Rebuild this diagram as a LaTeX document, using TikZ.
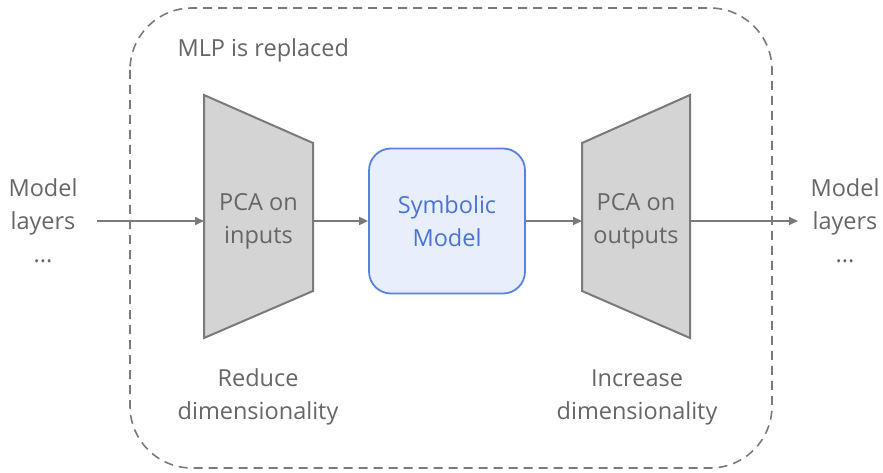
\documentclass[tikz,border=0pt]{standalone}
\usepackage{fontspec}
\setmainfont{Open Sans}
\definecolor{txtgray}{HTML}{666666}
\definecolor{linegray}{HTML}{7A7A7A}
\definecolor{trapfill}{HTML}{D4D4D4}
\definecolor{bluefill}{HTML}{E8EEFB}
\definecolor{bluedraw}{HTML}{5A80E0}
\definecolor{bluetxt}{HTML}{4A74D6}
\usetikzlibrary{arrows.meta}
\begin{document}
\begin{tikzpicture}[x=1pt,y=-1pt,
  lbl/.style={text=txtgray,font=\fontsize{23.5}{33}\selectfont,align=center},
  conn/.style={draw=linegray,line width=1.8pt,-{Triangle[length=9pt,width=8pt]}},
  trap/.style={draw=linegray,fill=trapfill,line width=2pt,line join=miter}]
\useasboundingbox (0,0) rectangle (883,473);
\draw[linegray,line width=1.6pt,dash pattern=on 9pt off 6pt,rounded corners=62pt] (130,8) rectangle (772,468);
\node[lbl,anchor=west] (title) at (174,50) {MLP is replaced};
% trapezoids
\draw[trap] (204,95) -- (313,143) -- (313,291) -- (204,338) -- cycle;
\draw[trap] (582,143) -- (690,95) -- (690,338) -- (582,291) -- cycle;
\coordinate (inL) at (204,221);
\coordinate (inR) at (313,221);
\coordinate (outL) at (582,221);
\coordinate (outR) at (690,221);
\node[lbl] (pin) at (258.5,221) {PCA on\\inputs};
\node[lbl] (pout) at (636,221) {PCA on\\outputs};
\node[draw=bluedraw,fill=bluefill,line width=1.8pt,rounded corners=22pt,minimum width=156pt,minimum height=145pt,text=bluetxt,font=\fontsize{23.5}{33}\selectfont,align=center] (sym) at (447,221) {Symbolic\\Model};
\node[lbl] (mleft) at (43,221) {Model\\layers\\...};
\node[lbl] (mright) at (845,221) {Model\\layers\\...};
\coordinate (a0) at (97,221);
\coordinate (a5) at (798,221);
\draw[conn] (a0) -- (inL);
\draw[conn] (inR) -- (sym.west);
\draw[conn] (sym.east) -- (outL);
\draw[conn] (outR) -- (a5);
\node[lbl] (red) at (258,397) {Reduce\\dimensionality};
\node[lbl] (inc) at (637,397) {Increase\\dimensionality};
\end{tikzpicture}
\end{document}
